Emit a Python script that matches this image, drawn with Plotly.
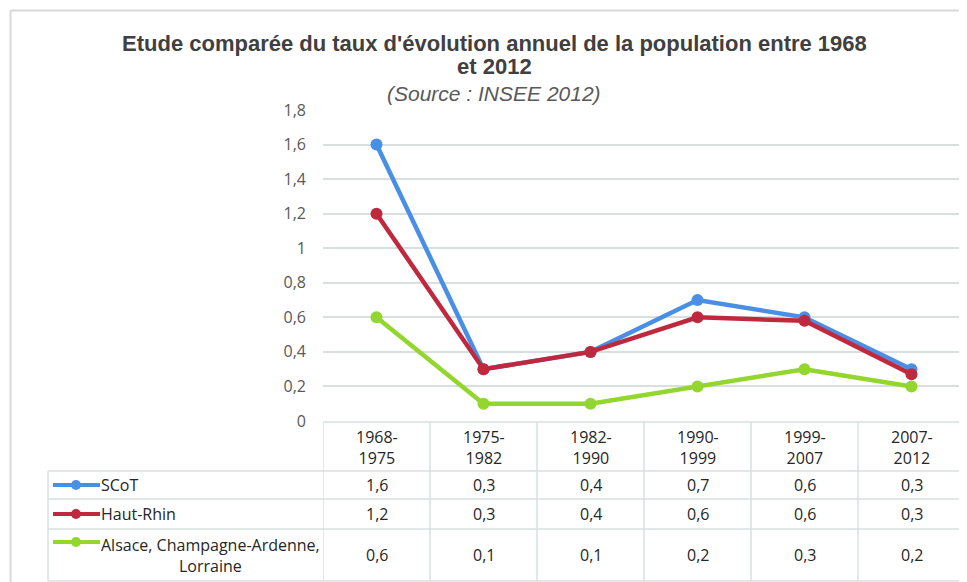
import plotly.graph_objects as go

# ---------------- data ----------------
periods = ["1968-1975", "1975-1982", "1982-1990", "1990-1999", "1999-2007", "2007-2012"]
series_names = ["SCoT", "Haut-Rhin", "Alsace, Champagne-Ardenne, Lorraine"]
scot = [1.6, 0.3, 0.4, 0.7, 0.6, 0.3]
haut_rhin = [1.2, 0.3, 0.4, 0.6, 0.58, 0.27]
acal = [0.6, 0.1, 0.1, 0.2, 0.3, 0.2]
y_ticks = [0, 0.2, 0.4, 0.6, 0.8, 1.0, 1.2, 1.4, 1.6, 1.8]

title_line1 = "Etude comparée du taux d'évolution annuel de la population entre 1968"
title_line2 = "et 2012"
subtitle = "(Source : INSEE 2012)"

colors = ["#4a8fe6", "#c0283d", "#92d62e"]
series = [scot, haut_rhin, acal]
legend_labels = ["SCoT", "Haut-Rhin", "Alsace, Champagne-Ardenne,<br>Lorraine"]

# ---------------- geometry (page pixels -> paper) ----------------
OFF = 8  # default page body margin
W, H = 967 - OFF, 582 - OFF
PLOT_L, PLOT_R, PLOT_T, PLOT_B = 323, 965, 110, 421  # page pixels
L, T = PLOT_L - OFF, PLOT_T - OFF
R, B = W - (PLOT_R - OFF), H - (PLOT_B - OFF)
PW, PH = PLOT_R - PLOT_L, PLOT_B - PLOT_T


def px(x):
    return (x - PLOT_L) / PW


def py(y):
    return (PLOT_B - y) / PH


grid_col = "#d9dfdf"
text_col = "#262626"
table_font = dict(family="Open Sans, Lato, sans-serif", size=16, color=text_col)

fig = go.Figure()
xs = list(range(len(periods)))
for name, vals, col in zip(series_names, series, colors):
    fig.add_trace(go.Scatter(
        x=xs, y=vals, name=name, mode="lines+markers",
        line=dict(color=col, width=4.5),
        marker=dict(color=col, size=12),
        showlegend=False, hoverinfo="x+y+name",
    ))

shapes = []
annotations = []

# chart frame (top and left edges visible)
shapes.append(dict(type="line", xref="paper", yref="paper", x0=px(10.5), x1=px(980),
                   y0=py(10.5), y1=py(10.5), line=dict(color="#d9d9d9", width=2)))
shapes.append(dict(type="line", xref="paper", yref="paper", x0=px(10.5), x1=px(10.5),
                   y0=py(10.5), y1=py(600), line=dict(color="#d9d9d9", width=2)))

# table rows (page pixel boundaries)
header_top, header_bot = 422, 471
row_bounds = [471, 499, 529, 581]
table_left = 48
n = len(periods)

for i in range(n + 1):
    shapes.append(dict(type="line", xref="x", yref="paper", x0=i - 0.5, x1=i - 0.5,
                       y0=py(header_top), y1=py(row_bounds[-1]),
                       line=dict(color=grid_col, width=1.5)))
shapes.append(dict(type="line", xref="x", yref="paper", x0=-0.5, x1=n - 0.5,
                   y0=py(header_top), y1=py(header_top), line=dict(color=grid_col, width=1.5)))
for yb in row_bounds:
    shapes.append(dict(type="line", xref="paper", yref="paper",
                       x0=px(table_left), x1=1, y0=py(yb), y1=py(yb),
                       line=dict(color=grid_col, width=1.5)))
shapes.append(dict(type="line", xref="paper", yref="paper", x0=px(table_left), x1=px(table_left),
                   y0=py(row_bounds[0]), y1=py(row_bounds[-1]), line=dict(color=grid_col, width=1.5)))

# header text
for i, p in enumerate(periods):
    a, b = p.split("-")
    annotations.append(dict(x=i, y=py((header_top + header_bot) / 2 + 1), xref="x", yref="paper",
                            text=f"{a}-<br>{b}", showarrow=False, font=table_font,
                            align="center", xanchor="center", yanchor="middle"))

# rows
for r, (vals, col, lab) in enumerate(zip(series, colors, legend_labels)):
    yc = (row_bounds[r] + row_bounds[r + 1]) / 2
    for i, v in enumerate(vals):
        annotations.append(dict(x=i, y=py(yc), xref="x", yref="paper",
                                text=f"{v:.1f}".replace(".", ","), showarrow=False,
                                font=table_font, xanchor="center", yanchor="middle"))
    key_y = row_bounds[r] + 13 if r == 2 else yc
    shapes.append(dict(type="line", xref="paper", yref="paper", x0=px(53), x1=px(100),
                       y0=py(key_y), y1=py(key_y), line=dict(color=col, width=4)))
    shapes.append(dict(type="circle", xref="paper", yref="paper", xsizemode="pixel",
                       ysizemode="pixel", xanchor=px(76), yanchor=py(key_y),
                       x0=-5, x1=5, y0=-5, y1=5, fillcolor=col, line=dict(width=0)))
    annotations.append(dict(x=px(99), y=py(yc), xref="paper", yref="paper", text=lab,
                            showarrow=False, xanchor="left", yanchor="middle", align="center",
                            font=table_font))

# titles
title_font = dict(family="Liberation Sans, Arial, sans-serif", size=22, color="#404040")
annotations.append(dict(x=px(494), y=py(44), xref="paper", yref="paper", text=f"<b>{title_line1}</b>",
                        showarrow=False, font=title_font, xanchor="center", yanchor="middle"))
annotations.append(dict(x=px(494), y=py(66), xref="paper", yref="paper", text=f"<b>{title_line2}</b>",
                        showarrow=False, font=title_font, xanchor="center", yanchor="middle"))
annotations.append(dict(x=px(494), y=py(93), xref="paper", yref="paper", text=f"<i>{subtitle}</i>",
                        showarrow=False, xanchor="center", yanchor="middle",
                        font=dict(family="Liberation Sans, Arial, sans-serif", size=21, color="#595959")))

fig.update_layout(
    width=W, height=H,
    margin=dict(l=L, r=R, t=T, b=B),
    paper_bgcolor="white", plot_bgcolor="white",
    separators=", ",
    shapes=shapes, annotations=annotations,
    xaxis=dict(range=[-0.5, n - 0.5], showticklabels=False, showgrid=False, zeroline=False,
               showline=False, ticks=""),
    yaxis=dict(range=[0, 1.8], tickvals=y_ticks, showgrid=True, gridcolor=grid_col, gridwidth=1.5,
               zeroline=False, showline=False, ticks="", ticklabelstandoff=16,
               tickfont=dict(family="Open Sans, Lato, sans-serif", size=16, color="#595959")),
)

fig.write_html("out.html")
